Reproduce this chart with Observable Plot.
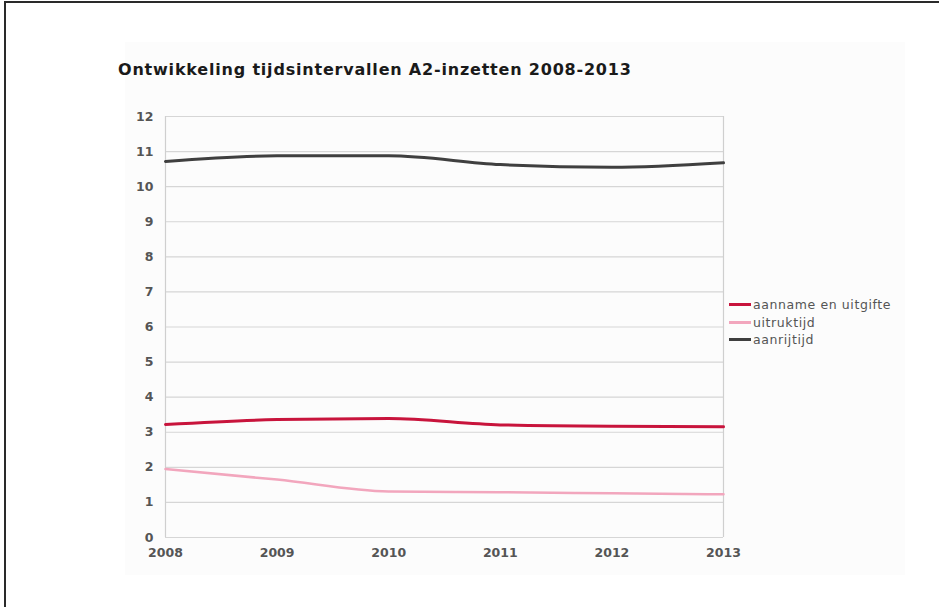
<!DOCTYPE html>
<html>
<head>
<meta charset="utf-8">
<script src="https://cdn.jsdelivr.net/npm/d3@7"></script>
<script src="https://cdn.jsdelivr.net/npm/@observablehq/plot@0.6"></script>
<style>
  html, body { margin: 0; padding: 0; background: #ffffff; }
  #wrap { position: relative; width: 939px; height: 607px; overflow: hidden; background: #ffffff; font-family: "DejaVu Sans", Verdana, sans-serif; }
  #frame { position: absolute; left: 4px; top: 1px; width: 940px; height: 610px; border-top: 2px solid #2a2a2a; border-left: 2px solid #2a2a2a; box-sizing: border-box; }
  #panel { position: absolute; left: 125px; top: 42px; width: 780px; height: 533px; background: #fcfcfc; }
  #title { position: absolute; left: 118px; top: 62px; font-size: 16px; line-height: 16px; letter-spacing: 0.8px; font-weight: bold; color: #1a1a1a; white-space: nowrap; }
  #chart { position: absolute; left: 0; top: 0; }
  #legend { position: absolute; left: 729px; top: 296px; font-size: 12.5px; letter-spacing: 0.6px; color: #555; }
  .item { display: flex; align-items: center; height: 17.5px; white-space: nowrap; }
  .sw { width: 22px; height: 3px; margin-right: 2px; }
</style>
</head>
<body>
<div id="wrap">
  <div id="frame"></div>
  <div id="panel"></div>
  <div id="chart"></div>
  <div id="title">Ontwikkeling tijdsintervallen A2-inzetten 2008-2013</div>
  <div id="legend"></div>
</div>
<script>
const years = [2008, 2009, 2010, 2011, 2012, 2013];
const seriesNames = ["aanname en uitgifte", "uitruktijd", "aanrijtijd"];
const aannameEnUitgifte = [3.22, 3.36, 3.39, 3.21, 3.17, 3.16];
const uitruktijd = [1.95, 1.65, 1.31, 1.29, 1.26, 1.23];
const aanrijtijd = [10.72, 10.88, 10.88, 10.63, 10.55, 10.68];
const yTicks = [0, 1, 2, 3, 4, 5, 6, 7, 8, 9, 10, 11, 12];
const colors = ["#c8143c", "#f2a6bd", "#3f3f3f"];

const seriesValues = [aannameEnUitgifte, uitruktijd, aanrijtijd];
const data = [];
seriesNames.forEach((name, i) => {
  years.forEach((yr, j) => data.push({ series: name, year: yr, value: seriesValues[i][j] }));
});

const chart = Plot.plot({
  width: 939,
  height: 607,
  marginLeft: 165,
  marginRight: 216,
  marginTop: 116,
  marginBottom: 70,
  style: { background: "transparent", fontFamily: "DejaVu Sans, Verdana, sans-serif", fontSize: "12px", overflow: "visible" },
  x: { type: "linear", domain: [2008, 2013] },
  y: { domain: [0, 12] },
  color: { domain: seriesNames, range: colors },
  marks: [
    Plot.ruleY(yTicks, { stroke: "#d6d6d6", strokeWidth: 1.2 }),
    Plot.ruleX([2008, 2013], { stroke: "#cfcfcf", strokeWidth: 1.2 }),
    Plot.axisY({ ticks: yTicks, tickSize: 0, tickPadding: 12, tickFormat: d => String(d), label: null, fill: "#555555", fontWeight: "bold", fontSize: 12.5 }),
    Plot.axisX({ ticks: years, tickSize: 0, tickPadding: 11, tickFormat: d => String(d), label: null, fill: "#555555", fontWeight: "bold", fontSize: 12.5 }),
    Plot.line(data, { x: "year", y: "value", z: "series", stroke: "series", strokeWidth: d => d.series === "uitruktijd" ? 2.5 : 3, curve: "monotone-x" })
  ]
});
document.getElementById("chart").appendChild(chart);

const legend = document.getElementById("legend");
seriesNames.forEach((name, i) => {
  const item = document.createElement("div");
  item.className = "item";
  const sw = document.createElement("span");
  sw.className = "sw";
  sw.style.background = colors[i];
  const t = document.createElement("span");
  t.textContent = name;
  item.appendChild(sw);
  item.appendChild(t);
  legend.appendChild(item);
});
</script>
</body>
</html>
